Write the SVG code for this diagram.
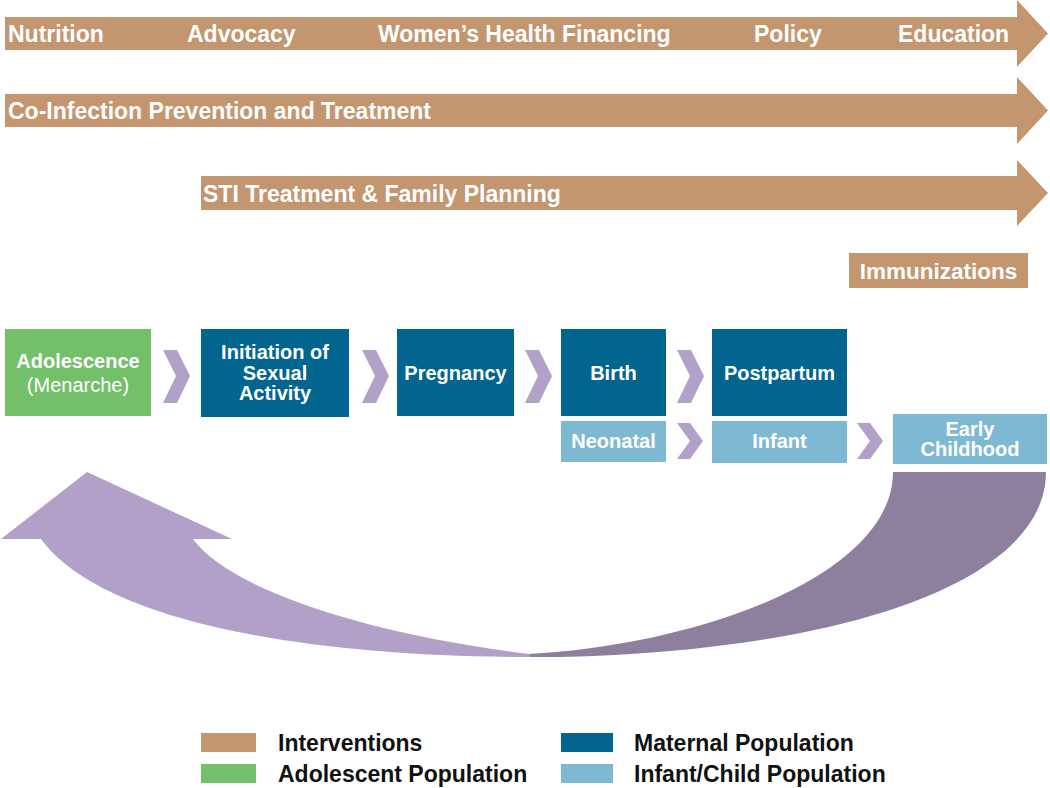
<svg xmlns="http://www.w3.org/2000/svg" width="1050" height="788" viewBox="0 0 1050 788">
<style>
.tan{fill:#C4966F}
.mat{fill:#02658F}
.ado{fill:#73BF6A}
.inf{fill:#7EB9D3}
.chev{fill:#B3A0C8}
.wt{font-family:"Liberation Sans",Arial,sans-serif;font-weight:bold;fill:#fff}
.big{font-size:23px}
.nd{font-size:20px;text-anchor:middle}
.lg{font-family:"Liberation Sans",Arial,sans-serif;font-weight:bold;font-size:23px;fill:#111}
</style>
<rect width="1050" height="788" fill="#fff"/>
<g id="interventions">
<g id="arrow-general">
<polygon class="tan" points="5,17 1017,17 1017,0 1048,33.5 1017,67 1017,50 5,50"/>
<text class="wt big" x="8" y="41.5">Nutrition</text>
<text class="wt big" x="187" y="41.5">Advocacy</text>
<text class="wt big" x="378" y="41.5">Women’s Health Financing</text>
<text class="wt big" x="754" y="41.5">Policy</text>
<text class="wt big" x="898" y="41.5">Education</text>
</g>
<g id="arrow-coinfection">
<polygon class="tan" points="5,94 1017,94 1017,77 1048,110.5 1017,144 1017,127 5,127"/>
<text class="wt big" x="8" y="119">Co-Infection Prevention and Treatment</text>
</g>
<g id="arrow-sti">
<polygon class="tan" points="201,176 1017,176 1017,160 1048,193 1017,226 1017,210 201,210"/>
<text class="wt big" x="203" y="201.5">STI Treatment &amp; Family Planning</text>
</g>
<g id="immunizations">
<rect class="tan" x="849" y="253" width="179" height="35"/>
<text class="wt" font-size="22.5" x="938.5" y="278.5" text-anchor="middle">Immunizations</text>
</g>
</g>
<g id="connectors">
<polygon class="chev" points="163,350 177,350 190,376 177,403 163,403 176,376"/>
<polygon class="chev" points="362,350 376,350 389,376 376,403 362,403 375,376"/>
<polygon class="chev" points="525,350 539,350 552,376 539,403 525,403 538,376"/>
<polygon class="chev" points="677,350 691,350 704,376 691,403 677,403 690,376"/>
<polygon class="chev" points="677,423 690,423 703,441 690,459 677,459 690,441"/>
<polygon class="chev" points="857,423 870,423 883,441 870,459 857,459 870,441"/>
<path id="cycle-dark" fill="#8F7F9F" d="M893,472 L1046,472 C1046,580 850,650 560,657 L528,657 L528,654 C700,645 893,575 893,472 Z"/>
<path id="cycle-light" fill="#B3A0C8" d="M87,472 L232,539 L193,539 C230,590 370,635 530,654 L530,657 C300,657 100,620 41,539 L1,539 Z"/>
</g>
<g id="node-adolescence">
<rect class="ado" x="5" y="329" width="146" height="87"/>
<text class="wt nd" x="78" y="368">Adolescence</text>
<text x="78" y="392" font-family="Liberation Sans,Arial,sans-serif" font-size="20" fill="#fff" text-anchor="middle">(Menarche)</text>
</g>
<g id="node-initiation">
<rect class="mat" x="201" y="329" width="148" height="88"/>
<text class="wt nd" x="275" y="359">Initiation of</text>
<text class="wt nd" x="275" y="380">Sexual</text>
<text class="wt nd" x="275" y="400">Activity</text>
</g>
<g id="node-pregnancy">
<rect class="mat" x="397" y="329" width="117" height="87"/>
<text class="wt nd" x="455.5" y="380">Pregnancy</text>
</g>
<g id="node-birth">
<rect class="mat" x="561" y="329" width="105" height="87"/>
<text class="wt nd" x="613.5" y="380">Birth</text>
</g>
<g id="node-postpartum">
<rect class="mat" x="712" y="329" width="135" height="87"/>
<text class="wt nd" x="779.5" y="380">Postpartum</text>
</g>
<g id="node-neonatal">
<rect class="inf" x="561" y="421" width="105" height="41"/>
<text class="wt nd" x="613.5" y="448">Neonatal</text>
</g>
<g id="node-infant">
<rect class="inf" x="712" y="421" width="135" height="42"/>
<text class="wt nd" x="779.5" y="448">Infant</text>
</g>
<g id="node-early-childhood">
<rect class="inf" x="893" y="414" width="154" height="50"/>
<text class="wt nd" x="970" y="436">Early</text>
<text class="wt nd" x="970" y="456">Childhood</text>
</g>
<g id="legend">
<rect class="tan" x="201" y="733" width="55" height="19"/>
<text class="lg" x="278" y="751">Interventions</text>
<rect class="ado" x="201" y="764" width="55" height="19"/>
<text class="lg" x="278" y="782">Adolescent Population</text>
<rect class="mat" x="561" y="733" width="52" height="19"/>
<text class="lg" x="634" y="751">Maternal Population</text>
<rect class="inf" x="561" y="764" width="52" height="19"/>
<text class="lg" x="634" y="782">Infant/Child Population</text>
</g>
</svg>
